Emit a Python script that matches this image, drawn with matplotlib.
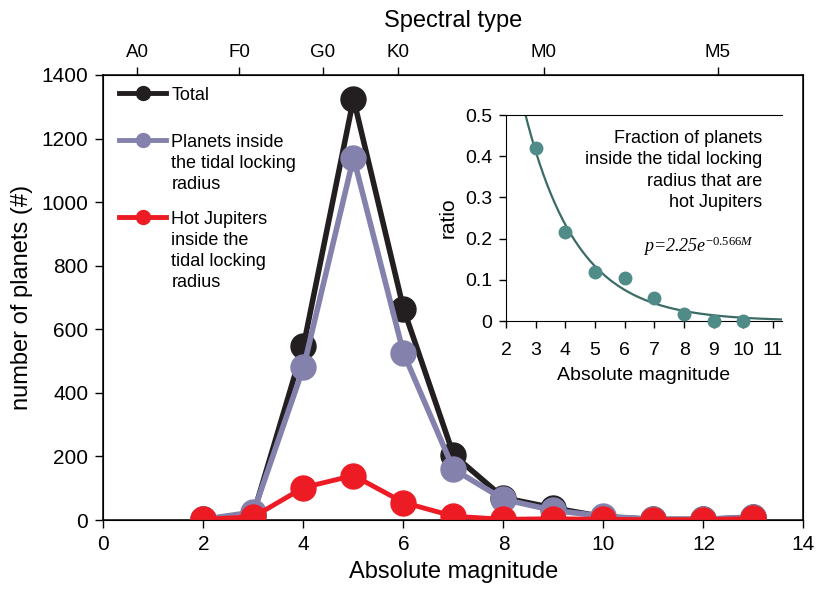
import numpy as np
import matplotlib
matplotlib.use('Agg')
import matplotlib.pyplot as plt
from matplotlib.lines import Line2D

plt.rcParams['font.family'] = ['Liberation Sans', 'DejaVu Sans']
plt.rcParams['mathtext.fontset'] = 'custom'
plt.rcParams['mathtext.it'] = 'Liberation Serif:italic'
plt.rcParams['mathtext.rm'] = 'Liberation Serif'

# --- data ---
magnitude = [2, 3, 4, 5, 6, 7, 8, 9, 10, 11, 12, 13]
total = [2, 20, 548, 1325, 665, 205, 70, 38, 10, 2, 2, 8]
tidal_locked = [2, 25, 480, 1140, 525, 160, 65, 30, 12, 2, 2, 10]
hot_jupiters = [2, 10, 102, 140, 55, 12, 2, 4, 2, 1, 1, 5]

spectral_types = ['A0', 'F0', 'G0', 'K0', 'M0', 'M5']
spectral_mag = [0.67, 2.71, 4.39, 5.89, 8.81, 12.29]

ratio_mag = [3, 4, 5, 6, 7, 8, 9, 10]
ratio = [0.42, 0.215, 0.12, 0.105, 0.055, 0.017, 0.0, 0.0]
fit_a, fit_b = 2.25, -0.566

BLACK = '#231f20'
PURPLE = '#8482ad'
RED = '#ed1c24'
TEAL = '#4f8c88'
TEAL_DARK = '#3c6b66'

fig = plt.figure(figsize=(8.28, 5.95), dpi=100)
ax = fig.add_axes([103.5 / 828, 1 - 520 / 595, 700 / 828, 445 / 595])

ax.plot(magnitude, total, '-o', color=BLACK, lw=4, ms=18, zorder=3)
ax.plot(magnitude, tidal_locked, '-o', color=PURPLE, lw=4, ms=18, zorder=4)
ax.plot(magnitude, hot_jupiters, '-o', color=RED, lw=3.5, ms=18, zorder=5)

ax.set_xlim(0, 14)
ax.set_ylim(0, 1400)
ax.set_xticks(range(0, 15, 2))
ax.set_yticks(range(0, 1401, 200))
ax.tick_params(direction='out', length=6, width=1, labelsize=15, pad=5)
for sp in ax.spines.values():
    sp.set_linewidth(1.1)
ax.set_xlabel('Absolute magnitude', fontsize=17, labelpad=5)
ax.set_ylabel('number of planets (#)', fontsize=17, labelpad=6)

# spectral type axis on top
top = ax.twiny()
top.set_xlim(ax.get_xlim())
top.set_xticks(spectral_mag)
top.set_xticklabels(spectral_types)
top.tick_params(direction='out', length=6, width=1, labelsize=13.5, pad=4)
top.set_xlabel('Spectral type', fontsize=17, labelpad=12)

# hand-made legend in the upper left
legend_items = [
    (BLACK, 'Total', 0.9596),
    (PURPLE, 'Planets inside\nthe tidal locking\nradius', 0.854),
    (RED, 'Hot Jupiters\ninside the\ntidal locking\nradius', 0.681),
]
for color, label, yy in legend_items:
    ax.add_line(Line2D([0.022, 0.09], [yy, yy], transform=ax.transAxes,
                       color=color, lw=3.5, zorder=6))
    ax.add_line(Line2D([0.056], [yy], transform=ax.transAxes,
                       color=color, marker='o', ms=10, zorder=6))
    ax.text(0.097, yy + 0.014, label, transform=ax.transAxes, fontsize=13,
            va='top', ha='left', linespacing=1.32)

# inset: fraction of hot Jupiters
ins = fig.add_axes([506 / 828, 1 - 321 / 595, 276 / 828, 206 / 595])
ins.set_facecolor('white')
ins.plot(ratio_mag, ratio, 'o', color=TEAL, ms=9, zorder=3, clip_on=False)
m_fit = np.linspace(2.6, 11.3, 200)
ins.plot(m_fit, fit_a * np.exp(fit_b * m_fit), color=TEAL_DARK, lw=1.6, zorder=2)
ins.set_xlim(2, 11.3)
ins.set_ylim(0, 0.5)
ins.set_xticks(range(2, 12))
ins.set_yticks([0, 0.1, 0.2, 0.3, 0.4, 0.5])
ins.set_yticklabels(['0', '0.1', '0.2', '0.3', '0.4', '0.5'])
ins.spines['right'].set_visible(False)
ins.tick_params(direction='out', length=5, width=1, labelsize=14, pad=5)
ins.tick_params(axis='x', pad=10)
ins.set_xlabel('Absolute magnitude', fontsize=14, labelpad=6)
ins.set_ylabel('ratio', fontsize=15, labelpad=5)
ins.text(10.62, 0.463, 'Fraction of planets\ninside the tidal locking\nradius that are\nhot Jupiters',
         ha='right', va='top', fontsize=13, linespacing=1.32)
ins.text(6.6, 0.168, r'p=2.25$e^{\mathrm{-0.566}M}$', family='Liberation Serif',
         style='italic', fontsize=13, ha='left', va='baseline')

fig.savefig('out.png', dpi=100)
